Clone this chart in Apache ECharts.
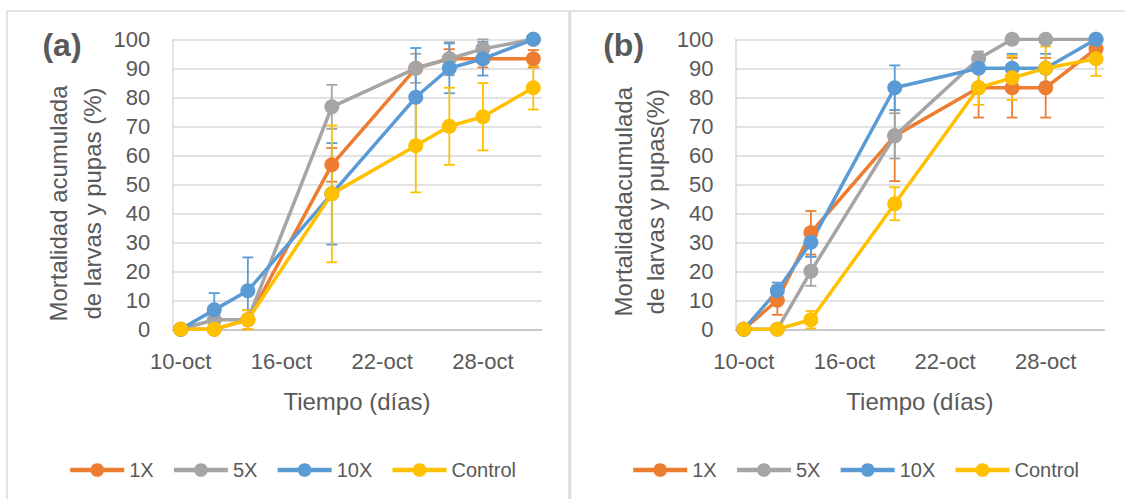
<!DOCTYPE html>
<html>
<head>
<meta charset="utf-8">
<script src="https://cdn.jsdelivr.net/npm/echarts@6/dist/echarts.min.js"></script>
<style>
  html, body { margin: 0; padding: 0; background: #fff; }
  #chart { width: 1125px; height: 499px; }
</style>
</head>
<body>
<div id="chart"></div>
<script>
// days of October where samples were taken
const days = [10, 12, 14, 19, 24, 26, 28, 31];
const tickDays = [10, 16, 22, 28];
const tickLabels = ['10-oct', '16-oct', '22-oct', '28-oct'];
const seriesNames = ['1X', '5X', '10X', 'Control'];

// panel (a) - mean values and +/- error
const a1X = [0, 0, 3.3, 56.7, 90, 93.3, 93.3, 93.3];
const a5X = [0, 3.3, 3.3, 76.7, 90, 93.3, 96.7, 100];
const a10X = [0, 6.7, 13.3, 46.7, 80, 90, 93.3, 100];
const aControl = [0, 0, 3.3, 46.7, 63.3, 70, 73.3, 83.3];
const aErr1X = [0, 0, 3.3, 5.8, 0, 3.3, 3, 3];
const aErr5X = [0, 0, 0, 7.6, 5, 5.7, 3.3, 0];
const aErr10X = [0, 5.8, 11.5, 17.5, 17, 8.6, 5.8, 0];
const aErrControl = [0, 0, 3.3, 23.6, 16.1, 13.3, 11.6, 7.5];

// panel (b)
const b1X = [0, 10, 33.3, 66.7, 83.3, 83.3, 83.3, 96.7];
const b5X = [0, 0, 20, 66.7, 93.3, 100, 100, 100];
const b10X = [0, 13.3, 30, 83.3, 90, 90, 90, 100];
const bControl = [0, 0, 3.3, 43.3, 83.3, 86.7, 90, 93.3];
const bErr1X = [0, 5, 7.5, 15.6, 10.3, 10.3, 10.3, 0];
const bErr5X = [0, 0, 5, 7.8, 2.5, 0, 0, 0];
const bErr10X = [0, 2.8, 5, 7.7, 0, 5, 5, 0];
const bErrControl = [0, 0, 3, 5.7, 5.9, 7.6, 7.5, 5.9];

const colors = ['#ED7D31', '#A5A5A5', '#5B9BD5', '#FFC000'];
const txt = '#595959';
const font = '"Liberation Sans", Arial, sans-serif';

const panels = [
  { vals: [a1X, a5X, a10X, aControl], errs: [aErr1X, aErr5X, aErr10X, aErrControl] },
  { vals: [b1X, b5X, b10X, bControl], errs: [bErr1X, bErr5X, bErr10X, bErrControl] }
];

function errRender(params, api) {
  const x = api.value(0), lo = api.value(1), hi = api.value(2);
  if (hi - lo <= 0) return null;
  const top = api.coord([x, hi]);
  const bot = api.coord([x, lo]);
  const w = 5.5;
  const style = { stroke: api.visual('color'), lineWidth: 1.8 };
  return {
    type: 'group',
    children: [
      { type: 'line', shape: { x1: top[0], y1: top[1], x2: bot[0], y2: bot[1] }, style: style },
      { type: 'line', shape: { x1: top[0] - w, y1: top[1], x2: top[0] + w, y2: top[1] }, style: style },
      { type: 'line', shape: { x1: bot[0] - w, y1: bot[1], x2: bot[0] + w, y2: bot[1] }, style: style }
    ]
  };
}

const series = [];
panels.forEach((p, pi) => {
  p.vals.forEach((v, si) => {
    series.push({
      name: seriesNames[si],
      type: 'line',
      xAxisIndex: pi,
      yAxisIndex: pi,
      z: 3,
      data: days.map((d, i) => [d, v[i]]),
      symbol: 'circle',
      symbolSize: 15,
      lineStyle: { width: 3.5, color: colors[si] },
      itemStyle: { color: colors[si] },
      emphasis: { disabled: true }
    });
  });
  p.vals.forEach((v, si) => {
    series.push({
      type: 'custom',
      xAxisIndex: pi,
      yAxisIndex: pi,
      z: 2,
      clip: false,
      silent: true,
      itemStyle: { color: colors[si] },
      renderItem: errRender,
      data: days.map((d, i) => [d, v[i] - p.errs[si][i], v[i] + p.errs[si][i]])
    });
  });
});

function xAxisFor(gi) {
  return {
    type: 'value',
    gridIndex: gi,
    min: 9.5,
    max: 31.5,
    name: 'Tiempo (días)',
    nameLocation: 'middle',
    nameGap: 60,
    nameTextStyle: { fontSize: 24, color: txt, fontFamily: font },
    axisLine: { lineStyle: { color: '#BFBFBF', width: 1.5 } },
    axisTick: { show: false },
    splitLine: { show: false },
    axisLabel: {
      customValues: tickDays,
      formatter: v => tickLabels[tickDays.indexOf(v)],
      fontSize: 22,
      color: txt,
      fontFamily: font,
      margin: 21
    }
  };
}

function yAxisFor(gi) {
  return {
    type: 'value',
    gridIndex: gi,
    min: 0,
    max: 100,
    interval: 10,
    axisLine: { show: true, lineStyle: { color: '#D9D9D9', width: 1.5 } },
    axisTick: { show: false },
    splitLine: { lineStyle: { color: '#D9D9D9', width: 1.5 } },
    axisLabel: { fontSize: 22, color: txt, fontFamily: font, margin: 22 }
  };
}

function legendFor(left) {
  return {
    data: seriesNames,
    left: left,
    top: 455,
    itemWidth: 54,
    itemHeight: 17,
    itemGap: 18,
    selectedMode: false,
    lineStyle: { width: 4.5 },
    textStyle: { fontSize: 20, color: txt, fontFamily: font }
  };
}

function vText(x, y, text) {
  return {
    type: 'text', x: x, y: y, rotation: Math.PI / 2,
    style: { text: text, fontSize: 24, fontFamily: font, fill: txt, align: 'center', verticalAlign: 'middle' }
  };
}

const chart = echarts.init(document.getElementById('chart'), null, { renderer: 'svg' });
chart.setOption({
  animation: false,
  grid: [
    { left: 172.3, top: 39.3, width: 369.4, height: 290 },
    { left: 735.4, top: 39.3, width: 369, height: 290 }
  ],
  xAxis: [xAxisFor(0), xAxisFor(1)],
  yAxis: [yAxisFor(0), yAxisFor(1)],
  legend: [legendFor(63), legendFor(626)],
  graphic: [
    { type: 'rect', shape: { x: 7, y: 11, width: 562, height: 500 }, style: { fill: 'none', stroke: '#D9D9D9', lineWidth: 1.5 }, silent: true },
    { type: 'rect', shape: { x: 570.5, y: 11, width: 560, height: 500 }, style: { fill: 'none', stroke: '#D9D9D9', lineWidth: 1.5 }, silent: true },
    { type: 'text', x: 62, y: 45, style: { text: '(a)', fontSize: 32, fontWeight: 'bold', fontFamily: font, fill: txt, align: 'center', verticalAlign: 'middle' } },
    { type: 'text', x: 623.6, y: 45, style: { text: '(b)', fontSize: 32, fontWeight: 'bold', fontFamily: font, fill: txt, align: 'center', verticalAlign: 'middle' } },
    vText(58.2, 203.5, 'Mortalidad acumulada'),
    vText(92, 203.5, 'de larvas y pupas (%)'),
    vText(623, 201.7, 'Mortalidadacumulada'),
    vText(655.5, 201.7, 'de larvas y pupas(%)')
  ],
  series: series
});
</script>
</body>
</html>
